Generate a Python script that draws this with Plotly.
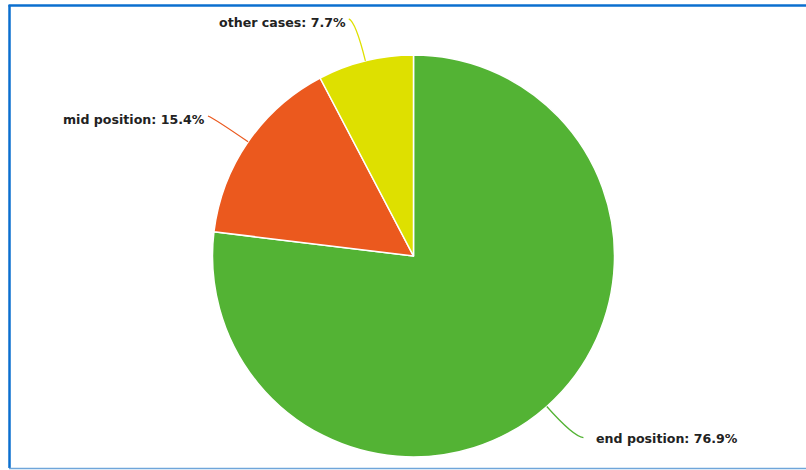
import math
import plotly.graph_objects as go

labels = ["end position", "mid position", "other cases"]
values = [10, 2, 1]
colors = ["#53b334", "#eb591e", "#dee000"]

W, H = 806, 470
CX, CY, R = 413.5, 256, 201  # pie centre / radius in pixels (layout)

def px(x):
    return x / W

def py(y):
    return 1 - y / H

fig = go.Figure(go.Pie(
    labels=labels, values=values, sort=False, direction="clockwise", rotation=0,
    marker=dict(colors=colors, line=dict(color="white", width=1.5)),
    textinfo="none", hoverinfo="skip", showlegend=False,
    domain=dict(x=[px(CX - R), px(CX + R)], y=[py(CY + R), py(CY - R)]),
))

total = sum(values)
shapes = []
annotations = []
cum = 0
for lab, v, col in zip(labels, values, colors):
    frac = (cum + v / 2) / total
    cum += v
    th = 2 * math.pi * frac
    dx, dy = math.sin(th), -math.cos(th)
    p = (CX + R * dx, CY + R * dy)
    q = (CX + 1.2 * R * dx, CY + 1.2 * R * dy)
    right = dx > 0
    e = (q[0] + (10 if right else -7), q[1] + (1 if dy > 0 else -3))
    path = "M {} {} Q {} {} {} {}".format(px(p[0]), py(p[1]), px(q[0]), py(q[1]), px(e[0]), py(e[1]))
    shapes.append(dict(type="path", xref="paper", yref="paper", path=path,
                       line=dict(color=col, width=1.3)))
    pct = 100 * v / total
    tx = e[0] + (11 if right else -1)
    ty = e[1] + (1 if dy > 0 else 3.5)
    annotations.append(dict(
        x=px(tx), y=py(ty), xref="paper", yref="paper",
        text="<b>{}: {:.1f}%</b>".format(lab, pct), showarrow=False,
        xanchor="left" if right else "right", yanchor="middle",
        font=dict(family="DejaVu Sans, sans-serif", size=12.6, color="#222222"),
    ))

# frame border
shapes += [
    dict(type="line", xref="paper", yref="paper", x0=px(8.5), x1=1.01, y0=py(5.5), y1=py(5.5),
         line=dict(color="#0b6fcf", width=2.5)),
    dict(type="line", xref="paper", yref="paper", x0=px(9.5), x1=px(9.5), y0=py(5), y1=py(468),
         line=dict(color="#0b6fcf", width=2.5)),
    dict(type="line", xref="paper", yref="paper", x0=px(9), x1=1.01, y0=py(468.5), y1=py(468.5),
         line=dict(color="#6fa6da", width=1.5)),
]

fig.update_layout(
    width=W, height=H, margin=dict(l=0, r=0, t=0, b=0),
    paper_bgcolor="white", plot_bgcolor="white",
    shapes=shapes, annotations=annotations,
)
fig.write_html("out.html", config={"displayModeBar": False},
               post_script="document.body.style.margin='0';document.body.style.overflow='hidden';")
